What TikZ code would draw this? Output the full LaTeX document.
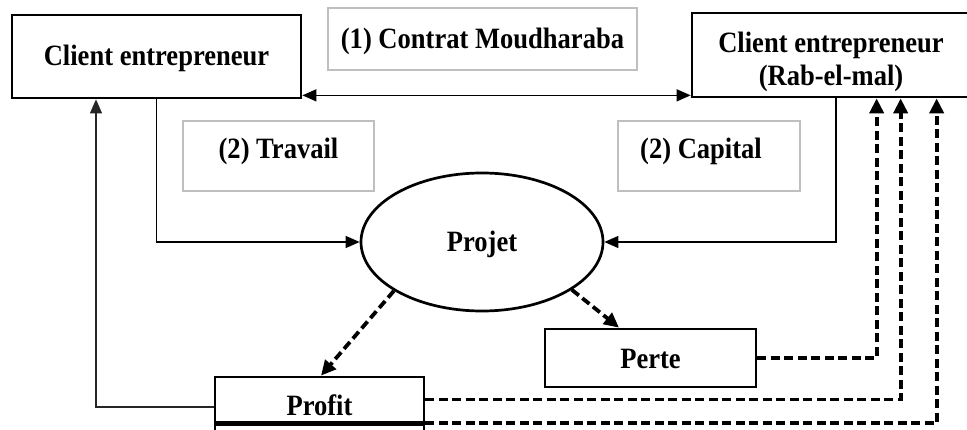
\documentclass[tikz,border=0pt]{standalone}
\usepackage{fontspec}
\setmainfont{Liberation Serif}[FakeStretch=0.9]
\usetikzlibrary{arrows.meta,shapes.geometric,calc}
\begin{document}
\begin{tikzpicture}[x=1pt,y=-1pt,
  every node/.style={font=\fontsize{29.5}{33}\selectfont\bfseries, inner sep=0pt},
  mainbox/.style={draw, line width=2.7pt, rectangle},
  notebox/.style={draw=black!25, line width=1.6pt, rectangle},
  flow/.style={line width=1.3pt, -{Triangle[length=14pt,width=12pt]}},
  share/.style={line width=3.8pt, dash pattern=on 9pt off 4.5pt, -{Triangle[length=15pt,width=14pt]}}
]
\useasboundingbox (0,0) rectangle (967,430);

% parties, project and outcomes
\node[mainbox, minimum width=289pt, minimum height=83pt, text height=25pt] (client) at (156.5,56.5) {Client entrepreneur};
\node[mainbox, minimum width=278pt, minimum height=84pt, align=center] (rab) at (831,55) {};
\node[align=center, anchor=center] (rabtext) at (831,62) {Client entrepreneur\\(Rab-el-mal)};
\node[notebox, minimum width=309pt, minimum height=62pt, text height=26pt] (contrat) at (482.5,39) {(1) Contrat Moudharaba};
\node[notebox, minimum width=191pt, minimum height=70pt, text height=16pt, text depth=10pt] (travail) at (278.5,156) {(2) Travail};
\node[notebox, minimum width=182pt, minimum height=70pt, text height=16pt, text depth=10pt] (capital) at (709,156) {\hspace*{-16pt}(2) Capital};
\node[draw, ellipse, line width=2.7pt, minimum width=242pt, minimum height=138pt, text height=26pt] (projet) at (482,242) {Projet};
\node[mainbox, minimum width=211pt, minimum height=58pt, text height=22pt] (perte) at (650.5,358) {Perte};
\node[mainbox, minimum width=209pt, minimum height=45pt, text height=33pt] (profit) at (319.5,399.5) {Profit};
\node[mainbox, minimum width=209pt, minimum height=40pt, anchor=north] (reste) at (profit.south) {};

% contract between the two parties
\coordinate (contratL) at ($(client.south east)+(0,-4)$);
\coordinate (contratR) at (contratL -| rab.west);
\draw[line width=1.3pt, {Triangle[length=14pt,width=12pt]}-{Triangle[length=14pt,width=12pt]}]
  (contratL) -- (contratR);

% work and capital brought into the project
\draw[flow] (client.south) |- (projet.west);
\draw[flow] ([xshift=5pt]rab.south) |- (projet.east);

% outcomes of the project
\draw[share] (projet.209) -- ([xshift=1.5pt]profit.north);
\draw[share] (projet.332) -- ([xshift=-31.5pt]perte.north);

% profit share back to the entrepreneur
\draw[flow, black!85] ([yshift=-7.5pt]profit.west) -| ([xshift=-60.5pt]client.south);

% returns to the capital owner
\draw[share] (perte.east) -| ([xshift=186pt]rab.south west);
\draw[share] (profit.east) -| ([xshift=210pt]rab.south west);
\draw[share] (reste.north east) -| ([xshift=246pt]rab.south west);
\end{tikzpicture}
\end{document}
